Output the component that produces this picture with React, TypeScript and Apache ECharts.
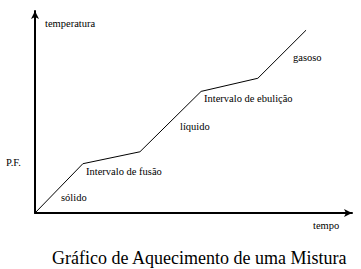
import React, { useEffect, useRef } from "react";
import * as echarts from "echarts";

const tempo = [0, 15.1, 33.1, 52.4, 70.3, 85.5];
const temperatura = [0, 24.4, 30.3, 60.2, 66.7, 90.5];
const titulo = "Gráfico de Aquecimento de uma Mistura";
const eixoY = "temperatura";
const eixoX = "tempo";
const anotacoes = [
  { texto: "sólido", x: 61, y: 198 },
  { texto: "Intervalo de fusão", x: 86, y: 172 },
  { texto: "líquido", x: 180, y: 127 },
  { texto: "Intervalo de ebulição", x: 204, y: 99 },
  { texto: "gasoso", x: 293, y: 58 },
  { texto: "P.F.", x: 6, y: 163 },
];

export default function App() {
  const ref = useRef<HTMLDivElement>(null);
  useEffect(() => {
    if (!ref.current) return;
    const chart = echarts.init(ref.current, null, { renderer: "svg" });
    const fam = "Liberation Serif";
    const small = (text: string, x: number, y: number) => ({
      text,
      left: x,
      top: y - 6,
      padding: 0,
      textStyle: { fontFamily: fam, fontSize: 10.5, fontWeight: "normal", color: "#000" },
    });
    chart.setOption({
      animation: false,
      backgroundColor: "#ffffff",
      textStyle: { fontFamily: fam },
      title: [
        {
          text: titulo,
          left: 52,
          top: 249,
          padding: 0,
          textStyle: { fontFamily: fam, fontSize: 18, fontWeight: "normal", color: "#000" },
        },
        small(eixoY, 45, 24),
        small(eixoX, 313, 226),
        ...anotacoes.map((a) => small(a.texto, a.x, a.y)),
      ],
      grid: { left: 35, right: 9, top: 11, bottom: 56 },
      xAxis: {
        type: "value",
        min: 0,
        max: 100,
        axisLine: {
          show: true,
          onZero: false,
          symbol: ["none", "arrow"],
          symbolSize: [6, 8],
          lineStyle: { color: "#000", width: 2 },
        },
        axisTick: { show: false },
        axisLabel: { show: false },
        splitLine: { show: false },
      },
      yAxis: {
        type: "value",
        min: 0,
        max: 100,
        axisLine: {
          show: true,
          onZero: false,
          symbol: ["none", "arrow"],
          symbolSize: [6, 8],
          lineStyle: { color: "#000", width: 2 },
        },
        axisTick: { show: false },
        axisLabel: { show: false },
        splitLine: { show: false },
      },
      series: [
        {
          type: "line",
          data: tempo.map((t, i) => [t, temperatura[i]]),
          symbol: "none",
          lineStyle: { color: "#000", width: 1 },
        },
      ],
    });
    return () => chart.dispose();
  }, []);
  return <div ref={ref} style={{ width: 361, height: 269, position: "fixed", left: 0, top: 0 }} />;
}
